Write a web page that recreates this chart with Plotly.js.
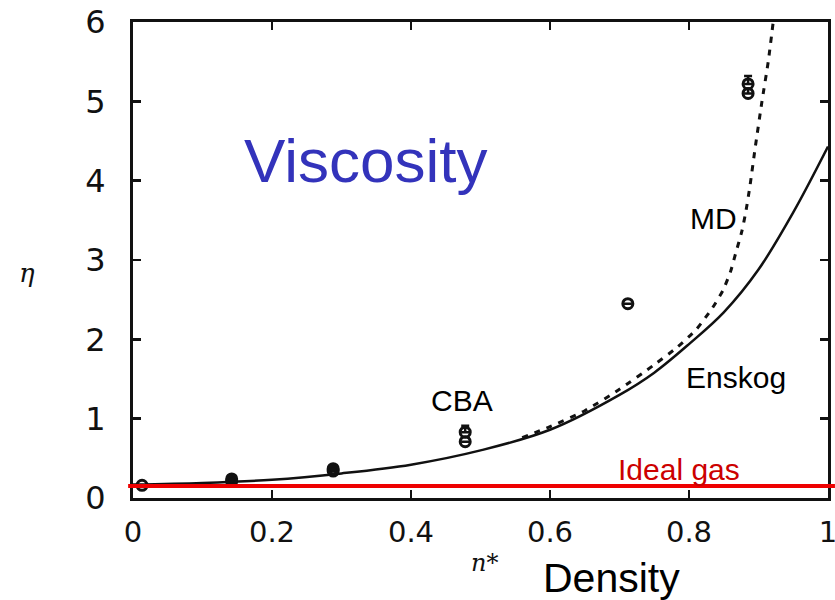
<!DOCTYPE html>
<html>
<head>
<meta charset="utf-8">
<script src="https://cdn.plot.ly/plotly-3.0.1.min.js"></script>
<style>html,body{margin:0;padding:0;background:#fff;}#chart{width:835px;height:600px;}</style>
</head>
<body>
<div id="chart"></div>
<script>
// Enskog theory curve
const enskogX = [0, 0.1, 0.2, 0.3, 0.4, 0.5, 0.6, 0.7, 0.75, 0.8, 0.85, 0.9, 0.95, 1.0];
const enskogY = [0.17, 0.19, 0.23, 0.31, 0.42, 0.6, 0.86, 1.3, 1.58, 1.94, 2.34, 2.88, 3.6, 4.43];
// MD simulation curve (dashed)
const mdX = [0.56, 0.6, 0.65, 0.7, 0.75, 0.783, 0.811, 0.834, 0.849, 0.86, 0.867, 0.876, 0.882, 0.888, 0.895, 0.905, 0.914, 0.921];
const mdY = [0.76, 0.9, 1.1, 1.37, 1.68, 1.9, 2.13, 2.4, 2.62, 2.86, 3.08, 3.36, 3.62, 3.95, 4.4, 5.0, 5.5, 5.99];
// CBA points
const cbaX = [0.013, 0.142, 0.142, 0.288, 0.288, 0.478, 0.478, 0.712, 0.885, 0.885];
const cbaY = [0.16, 0.21, 0.24, 0.34, 0.37, 0.71, 0.83, 2.45, 5.1, 5.22];
const cbaErr = [0, 0, 0.03, 0, 0.03, 0, 0.08, 0, 0.06, 0.1];
// Ideal gas level
const idealGas = 0.151;
// Tick labels
const xTicks = [0, 0.2, 0.4, 0.6, 0.8, 1];
const yTicks = [0, 1, 2, 3, 4, 5, 6];

const traces = [
  {x: enskogX, y: enskogY, mode: 'lines', line: {color: '#111', width: 2.5, shape: 'spline', smoothing: 1}, showlegend: false, hoverinfo: 'skip'},
  {x: mdX, y: mdY, mode: 'lines', line: {color: '#111', width: 3, dash: '6px,7px', shape: 'spline', smoothing: 0.6}, showlegend: false, hoverinfo: 'skip'},
  {x: cbaX, y: cbaY, mode: 'markers', cliponaxis: false,
   marker: {symbol: 'circle-open', size: 10, color: '#111', line: {width: 3, color: '#111'}},
   error_y: {type: 'data', array: cbaErr, arrayminus: cbaErr.map(()=>0), visible: true, color: '#111', thickness: 2.5, width: 4},
   showlegend: false}
];

const sans = 'Liberation Sans, Arial, sans-serif';
function ann(text, xref, yref, x, y, font) {
  return {text, xref, yref, x, y, xanchor: 'center', yanchor: 'middle', showarrow: false, font};
}
const layout = {
  width: 835, height: 600,
  margin: {l: 133, r: 7, t: 22, b: 102},
  paper_bgcolor: '#fff', plot_bgcolor: '#fff',
  showlegend: false,
  xaxis: {range: [0, 1], tickvals: xTicks, ticktext: xTicks.map(String), showgrid: false, zeroline: false,
          showline: true, linecolor: '#111', linewidth: 3, mirror: 'ticks', ticks: 'inside', ticklen: 8, tickwidth: 2.5, tickcolor: '#111',
          ticklabelstandoff: 6, ticklabeloverflow: 'allow', tickfont: {family: 'DejaVu Sans', size: 29, color: '#111'}},
  yaxis: {range: [0, 6], tickvals: yTicks, ticktext: yTicks.map(String), showgrid: false, zeroline: false,
          showline: true, linecolor: '#111', linewidth: 3, mirror: 'ticks', ticks: 'inside', ticklen: 8, tickwidth: 2.5, tickcolor: '#111',
          ticklabelstandoff: 18, ticklabeloverflow: 'allow', tickfont: {family: 'DejaVu Sans', size: 32, color: '#111'}},
  shapes: [
    {type: 'line', xref: 'paper', yref: 'y', x0: -0.007, x1: 1.01, y0: idealGas, y1: idealGas, line: {color: '#ee0000', width: 4}, layer: 'above'}
  ],
  annotations: [
    ann('Viscosity', 'x', 'y', 0.335, 4.25, {family: sans, size: 62, color: '#3333bb'}),
    ann('MD', 'x', 'y', 0.835, 3.52, {family: sans, size: 30, color: '#000'}),
    ann('Enskog', 'x', 'y', 0.868, 1.52, {family: sans, size: 30, color: '#000'}),
    ann('CBA', 'x', 'y', 0.473, 1.23, {family: sans, size: 30, color: '#000'}),
    ann('Ideal gas', 'x', 'y', 0.786, 0.36, {family: sans, size: 30, color: '#cc0000'}),
    ann('Density', 'paper', 'paper', 0.688, -0.168, {family: sans, size: 41, color: '#000'}),
    ann('<i>n*</i>', 'paper', 'paper', 0.506, -0.137, {family: 'DejaVu Serif', size: 24, color: '#111'}),
    ann('<i>η</i>', 'paper', 'paper', -0.153, 0.473, {family: 'DejaVu Serif', size: 26, color: '#111'})
  ]
};

Plotly.newPlot('chart', traces, layout, {displayModeBar: false, staticPlot: true});
</script>
</body>
</html>
